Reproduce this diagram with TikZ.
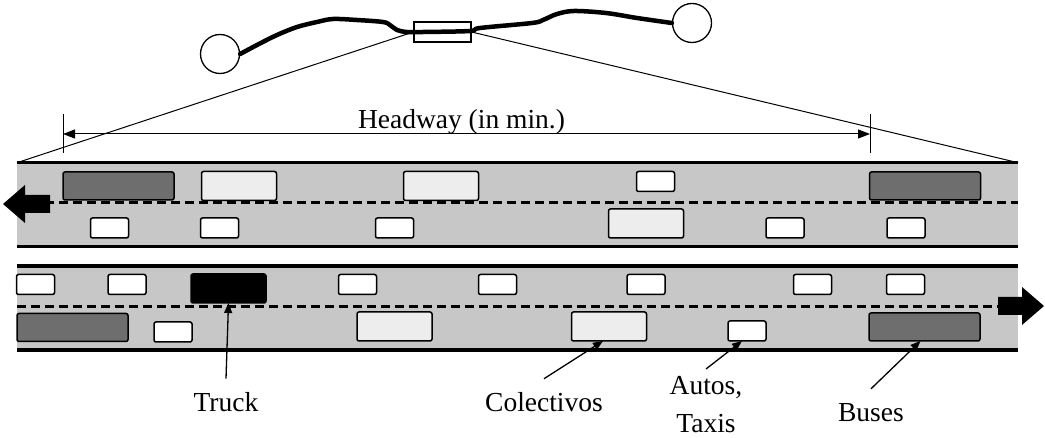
\documentclass[tikz,border=0pt]{standalone}
\usepackage{fontspec}
\setmainfont{Liberation Serif}
\usetikzlibrary{arrows.meta}
\begin{document}
\begin{tikzpicture}[x=1pt,y=-1pt,
  vehicle/.style={draw=black, line width=1.5pt, rounded corners=2pt, inner sep=0pt, outer sep=0pt},
  carbox/.style={vehicle, fill=white, minimum width=38pt, minimum height=20pt},
  colbox/.style={vehicle, fill=black!7, minimum width=75pt, minimum height=29pt},
  busbox/.style={vehicle, fill=black!57, minimum width=111pt, minimum height=28pt},
  truckbox/.style={vehicle, fill=black, minimum width=75pt, minimum height=29pt},
  roadfill/.style={fill=black!22, draw=none, minimum width=1001pt, minimum height=84pt, inner sep=0pt, outer sep=0pt},
  edge/.style={line width=3.5pt},
  lane/.style={line width=3pt, dash pattern=on 9pt off 5pt},
  thinline/.style={line width=1pt},
  lbl/.style={font=\fontsize{27.5}{38}\selectfont, inner xsep=2pt, inner ysep=14pt, align=center},
  pointer/.style={line width=1.3pt, -{Triangle[length=10pt,width=8pt]}},
  dim/.style={line width=1pt, {Triangle[length=12pt,width=9pt]}-{Triangle[length=12pt,width=9pt]}},
  town/.style={circle, draw, line width=1.3pt, minimum size=39pt, inner sep=0pt},
  segbox/.style={draw, line width=1.2pt, minimum width=57pt, minimum height=20pt, inner sep=0pt},
  route/.style={line width=4.5pt, line join=round, line cap=round},
  dirarrow/.style={fill=black}
]
\useasboundingbox (0,0) rectangle (1045,438);

% ---- two carriageways ----
\node[roadfill] (roadA) at (517.5,204.7) {};
\node[roadfill] (roadB) at (517.5,308) {};
\draw[lane] ([yshift=2pt]roadA.west) -- ([yshift=2pt]roadA.east);
\draw[lane] ([yshift=1.3pt]roadB.west) -- ([yshift=1.3pt]roadB.east);
\draw[edge] (roadA.north west) -- (roadA.north east);
\draw[edge] (roadA.south west) -- (roadA.south east);
\draw[edge] (roadB.north west) -- (roadB.north east);
\draw[edge] (roadB.south west) -- (roadB.south east);

% ---- vehicles, westbound ----
\node[busbox] (busA1) at (118.5,186) {};
\node[colbox] (colA1) at (239,186) {};
\node[colbox] (colA2) at (441,186) {};
\node[carbox] (carA1) at (655.5,181.5) {};
\node[busbox] (busA2) at (925,186) {};
\node[carbox] (carA2) at (109.5,228) {};
\node[carbox] (carA3) at (219.5,228) {};
\node[carbox] (carA4) at (394.5,228) {};
\node[colbox] (colA3) at (646,223.5) {};
\node[carbox] (carA5) at (785,228) {};
\node[carbox] (carA6) at (906,228) {};

% ---- vehicles, eastbound ----
\node[carbox] (carB1) at (35.5,284.5) {};
\node[carbox] (carB2) at (127,284.5) {};
\node[truckbox] (truck) at (228.5,288.5) {};
\node[carbox] (carB3) at (357.5,284.5) {};
\node[carbox] (carB4) at (497.5,284.5) {};
\node[carbox] (carB5) at (646,284.5) {};
\node[carbox] (carB6) at (812.5,284.5) {};
\node[carbox] (carB7) at (905.5,284.5) {};
\node[busbox] (busB1) at (72.5,327.5) {};
\node[carbox] (carB8) at (173,332) {};
\node[colbox] (colB1) at (394.5,326.5) {};
\node[colbox] (colB2) at (609,326.5) {};
\node[carbox] (carB9) at (747,331) {};
\node[busbox] (busB2) at (924.5,327) {};

% ---- direction of travel ----
\fill[dirarrow] (3,204) -- (25,185) -- (25,195) -- (50,195) -- (50,213) -- (25,213) -- (25,223) -- cycle;
\fill[dirarrow] (1044,306) -- (1022,287) -- (1022,297) -- (998,297) -- (998,315) -- (1022,315) -- (1022,325) -- cycle;

% ---- corridor map ----
\node[town] (orig) at (220,54) {};
\node[town] (dest) at (692,23) {};
\node[segbox] (seg) at (442.5,32) {};
\draw[route] plot[smooth, tension=0.55] coordinates {(orig.east) (257,45) (277,35) (297,27) (317,22) (333,19) (357,20) (383,22) (390,25) (397,30) (407,32) (423,32) (470,31) (480,28) (532,23) (543,20) (557,14) (574,11) (606,13) (637,18) (dest.west)};
\draw[thinline] (seg.west) -- (roadA.north west);
\draw[thinline] (seg.east) -- (roadA.north east);

% ---- headway dimension ----
\coordinate (tlT) at (63,114);
\coordinate (tlB) at (63,153);
\coordinate (trT) at (870,114);
\coordinate (trB) at (870,153);
\coordinate (hwL) at (63,134);
\coordinate (hwR) at (870,134);
\draw[thinline] (tlT) -- (tlB);
\draw[thinline] (trT) -- (trB);
\draw[dim] (hwL) -- (hwR);
\node[font=\fontsize{27.5}{33}\selectfont, anchor=base, inner sep=0pt] (hw) at (461.5,129) {Headway (in min.)};

% ---- labels ----
\node[lbl, anchor=base] (truckL) at (226,412) {Truck};
\node[lbl, anchor=base] (colL) at (544,412) {Colectivos};
\node[lbl, anchor=north, inner ysep=7pt] (carL) at (706,369) {Autos,\\Taxis};
\node[lbl, anchor=base] (busL) at (871,421) {Buses};
\draw[pointer] (truckL.north) -- (truck.south);
\draw[pointer] (colL.north) -- ([xshift=-6pt]colB2.south);
\draw[pointer] (carL.north) -- ([xshift=-5pt]carB9.south);
\draw[pointer] (busL.north) -- ([xshift=-4pt]busB2.south);
\end{tikzpicture}
\end{document}
